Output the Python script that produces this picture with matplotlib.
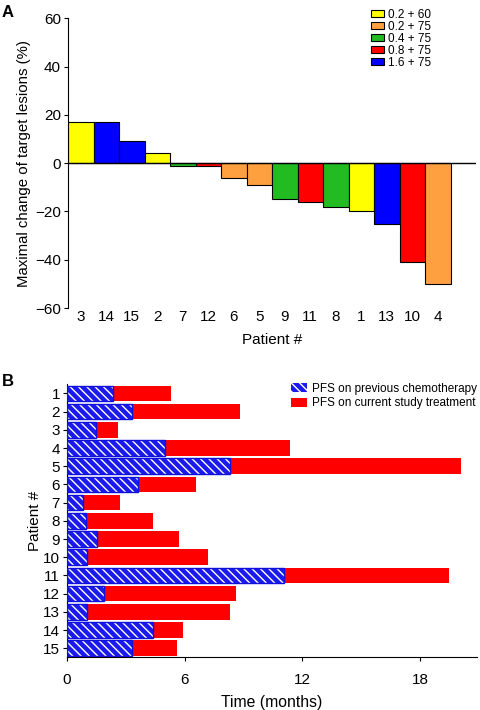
import matplotlib
matplotlib.use("Agg")
import matplotlib.pyplot as plt
from matplotlib.patches import Patch

plt.rcParams["font.family"] = ["Liberation Sans", "DejaVu Sans"]

# Panel A: waterfall of maximal change in target lesions
patients_a = ["3", "14", "15", "2", "7", "12", "6", "5", "9", "11", "8", "1", "13", "10", "4"]
change = [17, 17, 9, 4, -1, -1, -6, -9, -15, -16, -18, -20, -25, -41, -50]
dose = ["0.2 + 60", "1.6 + 75", "1.6 + 75", "0.2 + 60", "0.4 + 75", "0.8 + 75", "0.2 + 75",
        "0.2 + 75", "0.4 + 75", "0.8 + 75", "0.4 + 75", "0.2 + 60", "1.6 + 75", "0.8 + 75", "0.2 + 75"]
dose_levels = ["0.2 + 60", "0.2 + 75", "0.4 + 75", "0.8 + 75", "1.6 + 75"]
dose_colors = ["#ffff00", "#ffa040", "#22bb22", "#ff0000", "#0000ff"]

# Panel B: PFS per patient (months)
patients_b = [str(i) for i in range(1, 16)]
pfs_prev = [2.35, 3.3, 1.5, 5.0, 8.3, 3.6, 0.8, 0.95, 1.55, 1.0, 11.05, 1.9, 1.0, 4.4, 3.3]
pfs_total = [5.3, 8.8, 2.6, 11.35, 20.1, 6.6, 2.7, 4.4, 5.7, 7.2, 19.5, 8.6, 8.3, 5.9, 5.6]

fig = plt.figure(figsize=(4.8, 7.1), dpi=100)

# ---- panel A
ax = fig.add_axes([0.1417, 0.566, 0.85, 0.4084])
cmap = dict(zip(dose_levels, dose_colors))
x = list(range(len(patients_a)))
ax.bar(x, change, width=1.0, color=[cmap[d] for d in dose], edgecolor="black", linewidth=0.8, zorder=2)
ax.axhline(0, color="black", linewidth=1.0, zorder=3)
ax.set_xlim(-0.5, 15.5)
ax.set_ylim(-60, 60)
ax.set_yticks([-60, -40, -20, 0, 20, 40, 60])
ax.set_yticklabels(["\u221260", "\u221240", "\u221220", "0", "20", "40", "60"])
ax.set_xticks(x)
ax.set_xticklabels(patients_a)
ax.tick_params(axis="x", length=0, pad=1, labelsize=11)
ax.tick_params(axis="y", length=3, width=0.8, labelsize=11, pad=2)
for s in ["top", "right", "bottom"]:
    ax.spines[s].set_visible(False)
ax.spines["left"].set_linewidth(0.8)
ax.set_xlabel("Patient #", fontsize=11, labelpad=7)
ax.set_ylabel("Maximal change of target lesions (%)", fontsize=10.8, labelpad=3)
handles = [Patch(facecolor=c, edgecolor="black", linewidth=0.8) for c in dose_colors]
ax.legend(handles, dose_levels, loc="upper right", bbox_to_anchor=(0.91, 1.06), frameon=False,
          fontsize=8.5, handlelength=1.1, handleheight=0.5, handletextpad=0.3, labelspacing=0.0,
          borderpad=0.2)
fig.text(0.004, 0.993, "A", fontsize=12, fontweight="bold", va="top")

# ---- panel B
bx = fig.add_axes([0.1396, 0.0742, 0.854, 0.3845])
y = list(range(1, 16))
red_len = [t - p for t, p in zip(pfs_total, pfs_prev)]
bx.barh(y, red_len, left=pfs_prev, height=0.85, color="#ff0000", edgecolor="none", zorder=2)
plt.rcParams["hatch.linewidth"] = 1.0
bx.barh(y, pfs_prev, height=0.85, color="#1a1aee", edgecolor="white", hatch="\\\\\\\\", linewidth=0, zorder=2)
bx.barh(y, pfs_prev, height=0.85, facecolor="none", edgecolor="#1010dd", linewidth=1.0, zorder=3)
bx.set_ylim(15.5, 0.5)
bx.set_xlim(0, 20.9)
bx.set_yticks(y)
bx.set_yticklabels(patients_b)
bx.set_xticks([0, 6, 12, 18])
bx.tick_params(axis="y", length=3, width=0.8, labelsize=11, pad=2)
bx.tick_params(axis="x", length=3, width=0.8, labelsize=11, pad=8)
for s in ["top", "right"]:
    bx.spines[s].set_visible(False)
bx.spines["left"].set_linewidth(0.8)
bx.spines["bottom"].set_linewidth(0.8)
bx.set_xlabel("Time (months)", fontsize=11.3, labelpad=6)
bx.set_ylabel("Patient #", fontsize=11, labelpad=1)
handles_b = [Patch(facecolor="#1a1aee", edgecolor="white", hatch="\\\\\\\\", linewidth=0),
             Patch(facecolor="#ff0000", edgecolor="none")]
bx.legend(handles_b, ["PFS on previous chemotherapy", "PFS on current study treatment"],
          loc="upper right", bbox_to_anchor=(1.02, 1.035), frameon=False, fontsize=8.5,
          handlelength=1.4, handleheight=0.8, handletextpad=0.4, labelspacing=0.2, borderpad=0.2)
fig.text(0.004, 0.473, "B", fontsize=12, fontweight="bold", va="top")

fig.savefig("out.png", dpi=100)
